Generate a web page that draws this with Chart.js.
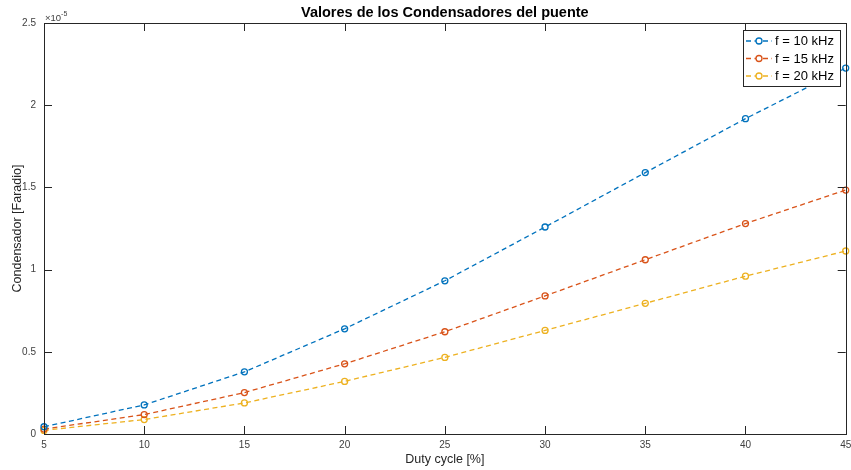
<!DOCTYPE html>
<html><head><meta charset="utf-8">
<script src="https://cdn.jsdelivr.net/npm/chart.js@4/dist/chart.umd.min.js"></script>
<style>html,body{margin:0;padding:0;background:#fff}#wrap{width:851px;height:470px}</style>
</head><body><div id="wrap"><canvas id="c" width="851" height="470"></canvas></div>
<script>
const dutyCycle = [5, 10, 15, 20, 25, 30, 35, 40, 45];
const cap10kHz = [0.044e-5, 0.177e-5, 0.378e-5, 0.640e-5, 0.932e-5, 1.259e-5, 1.590e-5, 1.918e-5, 2.226e-5];
const cap15kHz = [0.030e-5, 0.118e-5, 0.252e-5, 0.427e-5, 0.622e-5, 0.840e-5, 1.060e-5, 1.280e-5, 1.484e-5];
const cap20kHz = [0.022e-5, 0.088e-5, 0.189e-5, 0.320e-5, 0.466e-5, 0.630e-5, 0.795e-5, 0.960e-5, 1.113e-5];
const seriesLabels = ['f = 10 kHz', 'f = 15 kHz', 'f = 20 kHz'];
const xTicks = [5, 10, 15, 20, 25, 30, 35, 40, 45];
const yTicks = [0, 0.5e-5, 1e-5, 1.5e-5, 2e-5, 2.5e-5];
const titleText = 'Valores de los Condensadores del puente';
const colors = ['#0072BD', '#D95319', '#EDB120'];
const FONT = 'Arial, "Liberation Sans", Helvetica, sans-serif';
const AXC = '#262626';

function mk(vals, i) {
  return {
    label: seriesLabels[i],
    data: dutyCycle.map((x, k) => ({x: x, y: vals[k]})),
    borderColor: colors[i],
    backgroundColor: 'rgba(0,0,0,0)',
    borderWidth: 1.3,
    borderDash: [5, 3.5],
    pointStyle: 'circle',
    pointRadius: 3,
    pointBorderWidth: 1.3,
    pointBackgroundColor: 'rgba(0,0,0,0)',
    pointBorderColor: colors[i],
    tension: 0,
    clip: false
  };
}

const boxPlugin = {
  id: 'box',
  afterDraw(chart) {
    const ctx = chart.ctx, a = chart.chartArea;
    const xs = chart.scales.x, ys = chart.scales.y;
    ctx.save();
    ctx.strokeStyle = AXC; ctx.lineWidth = 1;
    ctx.strokeRect(Math.round(a.left) + 0.5, Math.round(a.top) + 0.5, Math.round(a.right - a.left), Math.round(a.bottom - a.top));
    ctx.beginPath();
    xTicks.forEach(v => {
      const px = Math.round(xs.getPixelForValue(v)) + 0.5;
      ctx.moveTo(px, a.bottom); ctx.lineTo(px, a.bottom - 8);
      ctx.moveTo(px, a.top); ctx.lineTo(px, a.top + 8);
    });
    yTicks.forEach(v => {
      const py = Math.round(ys.getPixelForValue(v)) + 0.5;
      ctx.moveTo(a.left, py); ctx.lineTo(a.left + 8, py);
      ctx.moveTo(a.right, py); ctx.lineTo(a.right - 8, py);
    });
    ctx.stroke();
    // title
    ctx.fillStyle = '#000'; ctx.textAlign = 'center'; ctx.textBaseline = 'middle';
    ctx.font = 'bold 14.5px ' + FONT;
    ctx.fillText(titleText, (a.left + a.right) / 2, 13);
    // exponent label
    ctx.fillStyle = '#404040';
    ctx.textBaseline = 'alphabetic'; ctx.textAlign = 'left';
    ctx.font = '9.5px ' + FONT;
    ctx.fillText('\u00d710', a.left + 1, a.top - 2);
    const w = ctx.measureText('\u00d710').width;
    ctx.font = '7px ' + FONT;
    ctx.fillText('-5', a.left + 1 + w, a.top - 7);
    // legend
    const lx = 743, ly = 30, lw = 97, lh = 56;
    ctx.fillStyle = '#fff';
    ctx.fillRect(lx, ly, lw, lh);
    ctx.strokeStyle = AXC; ctx.lineWidth = 1;
    ctx.strokeRect(lx + 0.5, ly + 0.5, lw, lh);
    chart.data.datasets.forEach((ds, i) => {
      const cy = ly + 11 + i * 17.5;
      ctx.strokeStyle = ds.borderColor; ctx.lineWidth = 1.3;
      ctx.setLineDash([5, 3.5]);
      ctx.beginPath(); ctx.moveTo(lx + 3, cy); ctx.lineTo(lx + 29, cy); ctx.stroke();
      ctx.setLineDash([]);
      ctx.beginPath(); ctx.arc(lx + 16, cy, 3, 0, Math.PI * 2); ctx.fillStyle = '#fff'; ctx.fill(); ctx.stroke();
      ctx.fillStyle = '#000'; ctx.font = '13px ' + FONT; ctx.textBaseline = 'middle'; ctx.textAlign = 'left';
      ctx.fillText(ds.label, lx + 32, cy + 0.5);
    });
    ctx.restore();
  }
};

new Chart(document.getElementById('c'), {
  type: 'line',
  data: { datasets: [mk(cap10kHz, 0), mk(cap15kHz, 1), mk(cap20kHz, 2)] },
  options: {
    responsive: false, animation: false, devicePixelRatio: 1,
    layout: { padding: { left: 0, right: 5, top: 23, bottom: 0 } },
    plugins: {
      legend: { display: false }, tooltip: { enabled: false }, title: { display: false }
    },
    scales: {
      x: {
        type: 'linear', min: 5, max: 45,
        afterBuildTicks(s) { s.ticks = xTicks.map(v => ({value: v})); },
        afterFit(s) { s.height = 36; s.paddingLeft = 0; s.paddingRight = 0; },
        grid: { display: false, drawTicks: false }, border: { display: false },
        ticks: { color: '#404040', font: { family: FONT, size: 10 }, padding: 5, maxRotation: 0 },
        title: { display: true, text: 'Duty cycle [%]', color: '#262626', font: { family: FONT, size: 12.5 }, padding: { top: 4, bottom: 3 } }
      },
      y: {
        type: 'linear', min: 0, max: 2.5e-5,
        afterBuildTicks(s) { s.ticks = yTicks.map(v => ({value: v})); },
        afterFit(s) { s.width = 44; s.paddingTop = 0; s.paddingBottom = 0; },
        grid: { display: false, drawTicks: false }, border: { display: false },
        ticks: { color: '#404040', font: { family: FONT, size: 10 }, padding: 8,
          callback: v => String(Number((v * 1e5).toFixed(2))) },
        title: { display: true, text: 'Condensador [Faradio]', color: '#262626', font: { family: FONT, size: 12.5 }, padding: { top: 10, bottom: 0 } }
      }
    }
  },
  plugins: [boxPlugin]
});
</script></body></html>
